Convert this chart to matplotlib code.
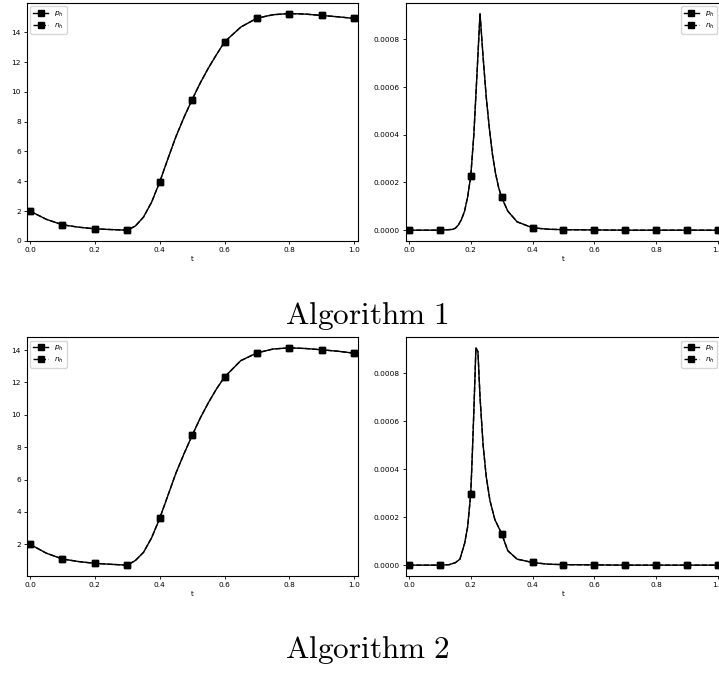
import matplotlib
matplotlib.use("Agg")
import matplotlib.pyplot as plt

# ---------------- data ----------------
# Algorithm 1, left panel
t_a1_left = [0.0, 0.05, 0.1, 0.15, 0.2, 0.25, 0.3, 0.325, 0.35, 0.375, 0.4, 0.425,
             0.45, 0.475, 0.5, 0.525, 0.55, 0.575, 0.6, 0.65, 0.7, 0.75, 0.8, 0.85,
             0.9, 0.95, 1.0]
p_a1_left = [2.0, 1.45, 1.08, 0.92, 0.81, 0.76, 0.72, 1.0, 1.6, 2.6, 3.96, 5.5,
             7.0, 8.3, 9.49, 10.6, 11.6, 12.5, 13.36, 14.35, 14.95, 15.18, 15.26, 15.22,
             15.13, 15.04, 14.93]
n_a1_left = p_a1_left

# Algorithm 1, right panel
t_a1_right = [0.0, 0.1, 0.14, 0.15, 0.16, 0.17, 0.18, 0.19, 0.2, 0.21, 0.22, 0.23,
              0.24, 0.25, 0.26, 0.27, 0.28, 0.29, 0.3, 0.32, 0.35, 0.4, 0.45, 0.5,
              0.6, 0.7, 0.8, 0.9, 1.0]
p_a1_right = [0.0, 0.0, 3e-6, 8e-6, 2.2e-5, 4.5e-5, 8e-5, 1.4e-4, 2.27e-4, 4.0e-4, 6.5e-4, 9.08e-4,
              7.25e-4, 5.6e-4, 4.3e-4, 3.2e-4, 2.4e-4, 1.8e-4, 1.37e-4, 8e-5, 3.5e-5, 1.0e-5, 4e-6, 2e-6,
              1e-6, 0.0, 0.0, 0.0, 0.0]
n_a1_right = p_a1_right

# Algorithm 2, left panel
t_a2_left = t_a1_left
p_a2_left = [2.0, 1.45, 1.09, 0.93, 0.82, 0.76, 0.71, 1.0, 1.5, 2.4, 3.61, 5.0,
             6.4, 7.6, 8.73, 9.8, 10.75, 11.6, 12.34, 13.35, 13.83, 14.07, 14.14, 14.1,
             14.02, 13.93, 13.81]
n_a2_left = p_a2_left

# Algorithm 2, right panel
t_a2_right = [0.0, 0.1, 0.13, 0.15, 0.165, 0.18, 0.19, 0.2, 0.205, 0.21, 0.2167, 0.2233,
              0.23, 0.24, 0.25, 0.262, 0.278, 0.3, 0.32, 0.35, 0.4, 0.45, 0.5,
              0.6, 0.7, 0.8, 0.9, 1.0]
p_a2_right = [0.0, 0.0, 2e-6, 1e-5, 2.5e-5, 9e-5, 1.6e-4, 2.98e-4, 4.6e-4, 6.4e-4, 9.05e-4, 8.89e-4,
              7.0e-4, 5.0e-4, 3.7e-4, 2.7e-4, 1.9e-4, 1.31e-4, 6e-5, 2.5e-5, 1.1e-5, 4e-6, 2e-6,
              1e-6, 0.0, 0.0, 0.0, 0.0]
n_a2_right = p_a2_right

labels = [r"$p_h$", r"$n_h$"]
captions = [r"$\mathrm{Algorithm\ 1}$", r"$\mathrm{Algorithm\ 2}$"]

# ---------------- figure ----------------
W, H = 719, 675
fig = plt.figure(figsize=(W / 100, H / 100), dpi=100)

FS = 5.3


def px_axes(left, top, right, bottom):
    return fig.add_axes([left / W, 1 - bottom / H, (right - left) / W, (bottom - top) / H])


def marks(t):
    return [i for i, v in enumerate(t) if abs(v * 10 - round(v * 10)) < 1e-9]


def panel(ax, t, p, n, loc):
    ax.plot(t, p, '-', color='black', lw=1.0, marker='s', ms=4.5,
            markevery=marks(t), label=labels[0])
    ax.plot(t, n, '--', color='black', lw=1.0, marker='s', ms=4.5,
            markevery=marks(t), label=labels[1])
    ax.set_xlim(-0.01, 1.01)
    ax.set_xlabel("t", fontsize=FS, labelpad=2)
    ax.tick_params(labelsize=FS, length=2.5, width=0.6, pad=1.8)
    for s in ax.spines.values():
        s.set_linewidth(0.8)
    ax.legend(loc=loc, fontsize=FS, handlelength=2.0, borderpad=0.4,
              labelspacing=0.4, borderaxespad=0.5)


ax1 = px_axes(26.8, 2.7, 357.5, 241)
panel(ax1, t_a1_left, p_a1_left, n_a1_left, 'upper left')
ax2 = px_axes(405.9, 2.7, 720.9, 241)
panel(ax2, t_a1_right, p_a1_right, n_a1_right, 'upper right')
ax3 = px_axes(26.8, 337, 357.5, 576)
panel(ax3, t_a2_left, p_a2_left, n_a2_left, 'upper left')
ax4 = px_axes(405.9, 337, 720.9, 576)
panel(ax4, t_a2_right, p_a2_right, n_a2_right, 'upper right')

fig.text(367 / W, 1 - 324.3 / H, captions[0], ha='center', va='baseline',
         fontsize=22.5, math_fontfamily='cm')
fig.text(367 / W, 1 - 658.3 / H, captions[1], ha='center', va='baseline',
         fontsize=22.5, math_fontfamily='cm')

fig.savefig("out.png", dpi=100)
